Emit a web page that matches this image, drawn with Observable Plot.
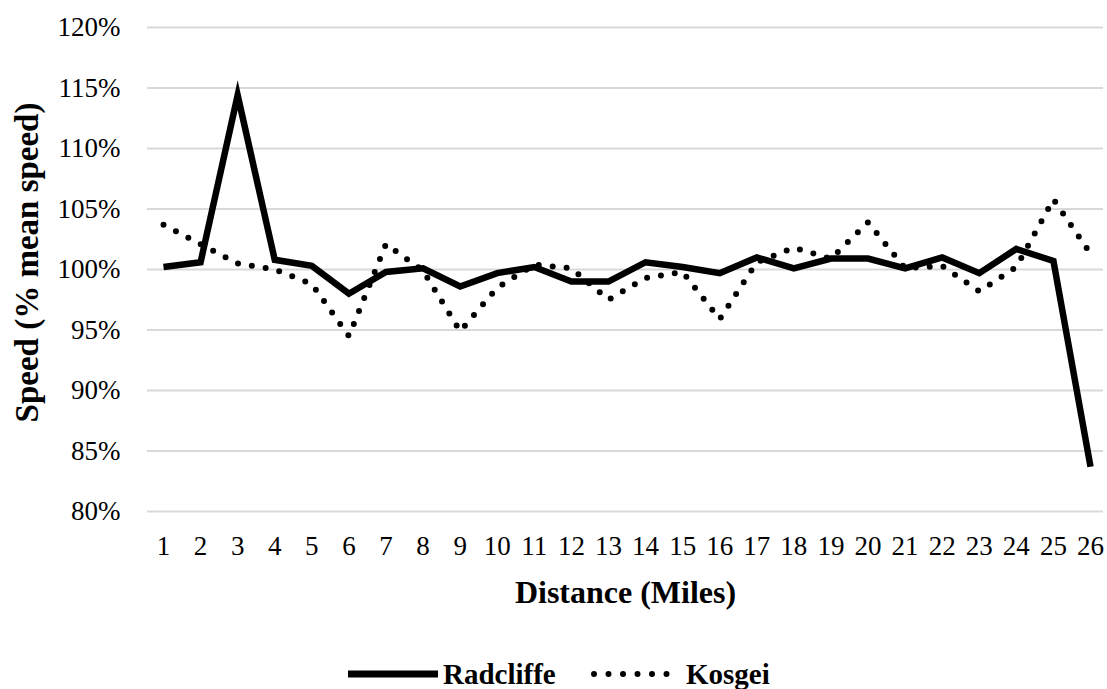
<!DOCTYPE html>
<html><head><meta charset="utf-8">
<script src="https://cdn.jsdelivr.net/npm/d3@7"></script>
<script src="https://cdn.jsdelivr.net/npm/@observablehq/plot@0.6"></script>
<style>
body{margin:0;background:#fff;font-family:"Liberation Serif","Times New Roman",serif;}
#chart svg{display:block;}
#legend{position:relative;height:69px;}
.item{position:absolute;top:38px;display:flex;align-items:center;font-weight:bold;font-size:29px;line-height:32px;color:#000;}
.item svg{display:block;margin-right:5px;}
</style></head><body>
<div id="chart"></div>
<div id="legend"></div>
<script>
const miles = [1,2,3,4,5,6,7,8,9,10,11,12,13,14,15,16,17,18,19,20,21,22,23,24,25,26];
const radcliffe = [100.2,100.6,114.4,100.8,100.3,98.0,99.8,100.1,98.6,99.7,100.2,99.0,99.0,100.6,100.2,99.7,101.0,100.1,100.9,100.9,100.1,101.0,99.7,101.7,100.7,83.7];
const kosgei = [103.7,102.1,100.5,100.0,98.8,94.5,102.1,99.9,94.9,98.5,100.4,100.1,97.5,99.3,99.8,95.9,100.6,101.8,100.9,103.9,100.1,100.3,98.2,100.2,105.8,101.3];
const yTicks = [80,85,90,95,100,105,110,115,120];
const seriesNames = ["Radcliffe","Kosgei"];
const xTitle = "Distance (Miles)";
const yTitle = "Speed (% mean speed)";

const radRows = miles.map((m,i)=>({mile:m, series:seriesNames[0], v:radcliffe[i]}));
const kosRows = miles.map((m,i)=>({mile:m, series:seriesNames[1], v:kosgei[i]}));

const chart = Plot.plot({
  width:1107, height:620,
  marginLeft:147, marginRight:4, marginTop:27, marginBottom:109,
  style:{fontFamily:"'Liberation Serif','Times New Roman',serif", fontSize:"27px", color:"#000", background:"#fff", overflow:"visible"},
  x:{type:"linear", domain:[0.5685, 26.35]},
  y:{domain:[80,120]},
  marks:[
    Plot.gridY(yTicks,{stroke:"#d9d9d9", strokeOpacity:1, strokeWidth:2}),
    Plot.axisX(miles,{tickSize:0, tickPadding:24, tickFormat:d=>String(d), label:null, fontSize:27}),
    Plot.axisY(yTicks,{tickSize:0, tickPadding:27, tickFormat:d=>d+"%", label:null, fontSize:27}),
    Plot.text([xTitle],{frameAnchor:"bottom", dy:91, lineAnchor:"bottom", fontWeight:"bold", fontSize:32}),
    Plot.text([yTitle],{frameAnchor:"left", textAnchor:"middle", rotate:-90, dx:-120, dy:-7, lineAnchor:"middle", fontWeight:"bold", fontSize:33}),
    Plot.line(kosRows,{x:"mile", y:"v", stroke:"#000", strokeWidth:6, strokeDasharray:"0 14", strokeLinecap:"round"}),
    Plot.line(radRows,{x:"mile", y:"v", stroke:"#000", strokeWidth:6.5, strokeLinejoin:"miter", strokeMiterlimit:10, strokeLinecap:"butt"})
  ]
});
document.getElementById("chart").appendChild(chart);

const legend = document.getElementById("legend");
const items = [
  {name:seriesNames[0], left:348, dash:null},
  {name:seriesNames[1], left:591, dash:"0 14.5"}
];
for (const it of items) {
  const d = document.createElement("div");
  d.className = "item";
  d.style.left = it.left + "px";
  const w = 90;
  d.innerHTML = `<svg width="${w}" height="12"><line x1="${it.dash?3:0}" y1="6" x2="${w-1}" y2="6" stroke="#000" stroke-width="${it.dash?6:7}" ${it.dash?`stroke-dasharray="${it.dash}" stroke-linecap="round"`:'stroke-linecap="round"'}/></svg><span>${it.name}</span>`;
  legend.appendChild(d);
}
</script>
</body></html>
